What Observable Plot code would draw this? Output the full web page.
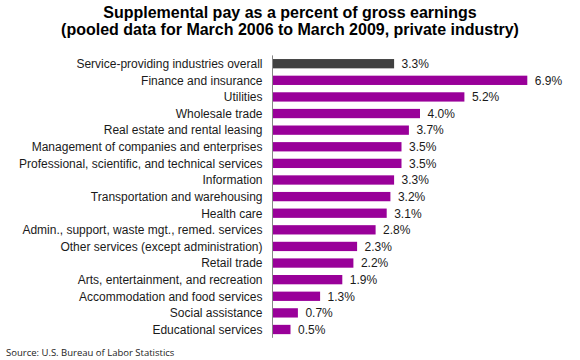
<!DOCTYPE html>
<html>
<head>
<meta charset="utf-8">
<script src="https://cdn.jsdelivr.net/npm/d3@7"></script>
<script src="https://cdn.jsdelivr.net/npm/@observablehq/plot@0.6"></script>
<style>
  html, body { margin: 0; padding: 0; background: #fff; }
  #wrap { position: relative; width: 580px; height: 360px; overflow: hidden; font-family: "Liberation Sans", Arial, sans-serif; }
  #title { position: absolute; left: 0; top: 5px; width: 580px; text-align: center; font-weight: bold; font-size: 16px; line-height: 16.5px; color: #000; }
  #chart { position: absolute; left: 0; top: 46px; line-height: 0; }
  #source { position: absolute; left: 6px; top: 346px; font-family: "Open Sans", "Noto Sans", sans-serif; font-size: 9.5px; color: #222; }
</style>
</head>
<body>
<div id="wrap">
  <div id="title">Supplemental pay as a percent of gross earnings<br>(pooled data for March 2006 to March 2009, private industry)</div>
  <div id="chart"></div>
  <div id="source">Source: U.S. Bureau of Labor Statistics</div>
</div>
<script>
const industries = [
  "Service-providing industries overall",
  "Finance and insurance",
  "Utilities",
  "Wholesale trade",
  "Real estate and rental leasing",
  "Management of companies and enterprises",
  "Professional, scientific, and technical services",
  "Information",
  "Transportation and warehousing",
  "Health care",
  "Admin., support, waste mgt., remed. services",
  "Other services (except administration)",
  "Retail trade",
  "Arts, entertainment, and recreation",
  "Accommodation and food services",
  "Social assistance",
  "Educational services"
];
const percents = [3.3, 6.9, 5.2, 4.0, 3.7, 3.5, 3.5, 3.3, 3.2, 3.1, 2.8, 2.3, 2.2, 1.9, 1.3, 0.7, 0.5];
const groups = ["overall", "industry", "industry", "industry", "industry", "industry", "industry", "industry", "industry", "industry", "industry", "industry", "industry", "industry", "industry", "industry", "industry"];

const data = industries.map((name, i) => ({name, value: percents[i], group: groups[i]}));

const chart = Plot.plot({
  width: 580,
  height: 300,
  marginLeft: 272,
  marginRight: 12,
  marginTop: 9.4,
  marginBottom: 8.2,
  style: {fontFamily: "'Liberation Sans', Arial, sans-serif", fontSize: "12px", color: "#1a1a1a", background: "#fff"},
  x: {domain: [0, 8], axis: null},
  y: {domain: industries, paddingInner: 0.44, paddingOuter: 0.22, round: false, label: null, tickSize: 0, tickPadding: 10},
  color: {domain: ["overall", "industry"], range: ["#404040", "#990099"]},
  marks: [
    Plot.barX(data, {x: "value", y: "name", fill: "group"}),
    Plot.ruleX([0], {stroke: "#868686", strokeWidth: 1}),
    Plot.text(data, {x: "value", y: "name", text: d => d.value.toFixed(1) + "%", textAnchor: "start", dx: 7, fill: "#1a1a1a", fontSize: 12})
  ]
});
document.getElementById("chart").appendChild(chart);
</script>
</body>
</html>
